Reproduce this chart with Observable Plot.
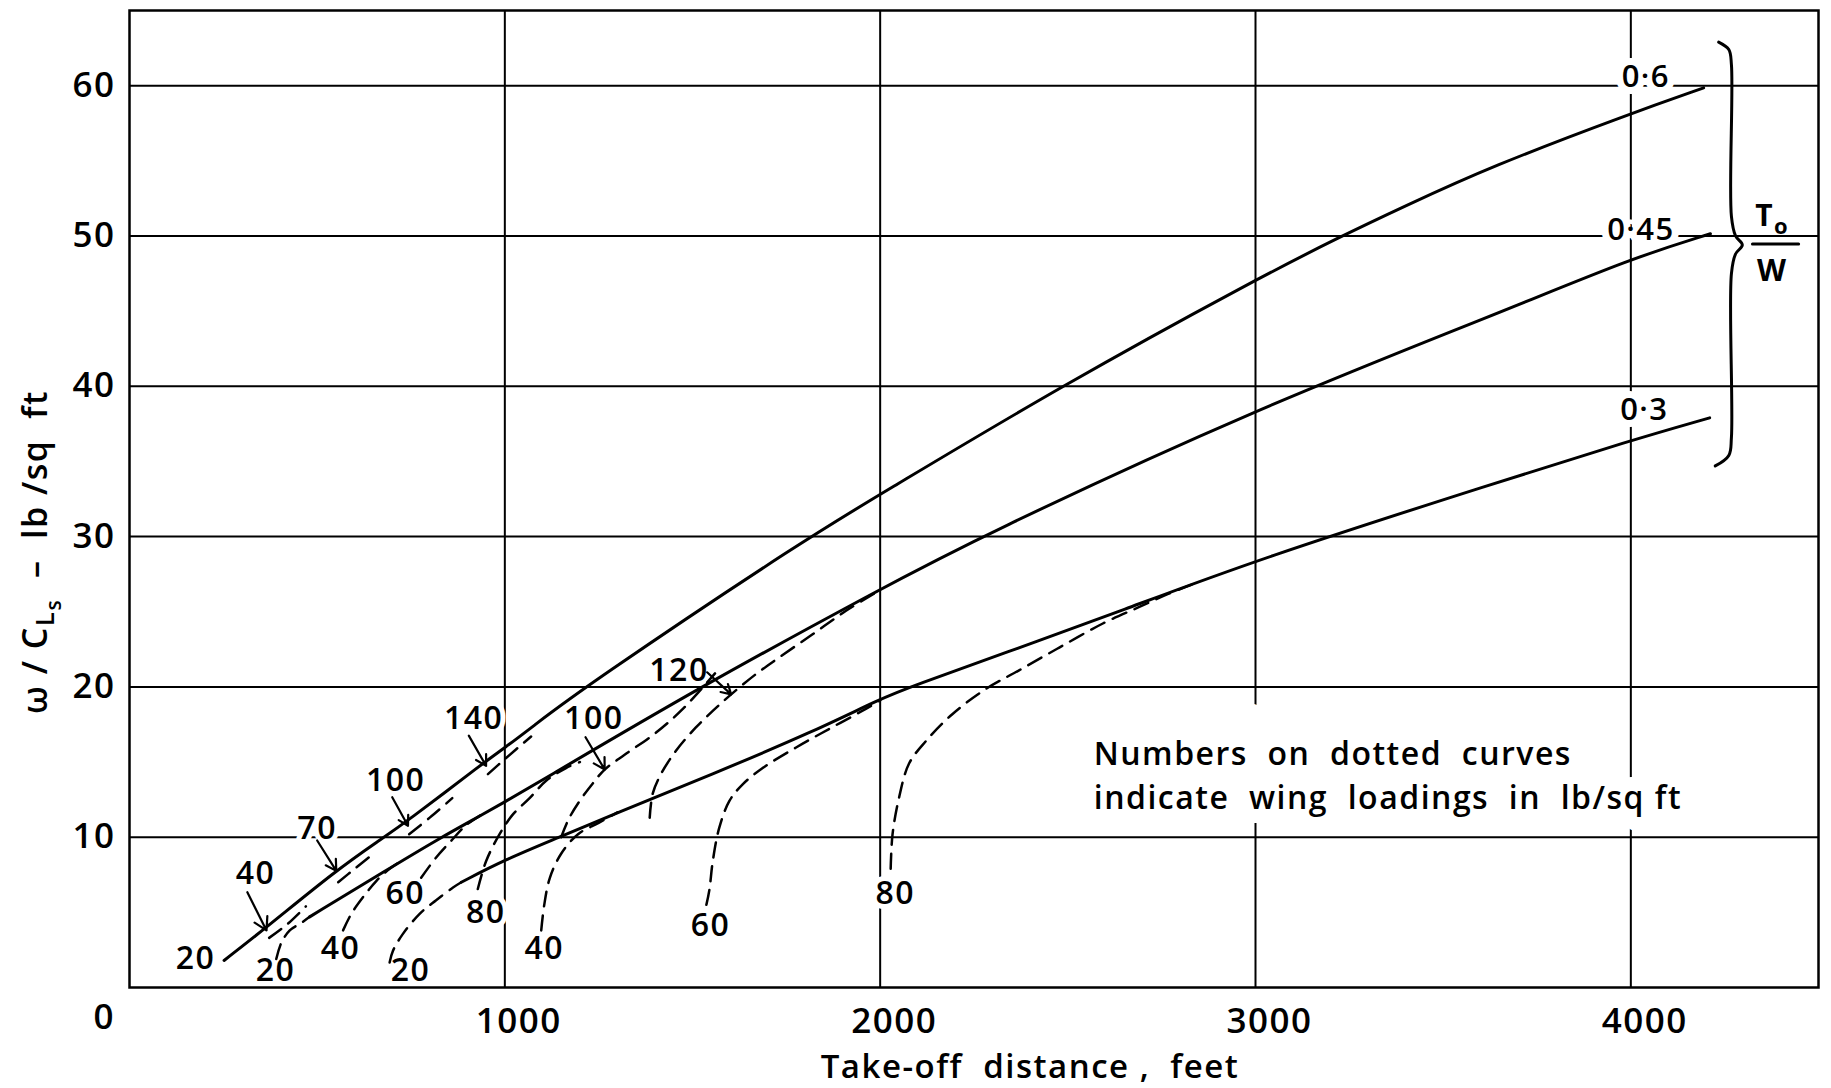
<!DOCTYPE html>
<html><head><meta charset="utf-8">
<script src="https://cdn.jsdelivr.net/npm/d3@7"></script>
<script src="https://cdn.jsdelivr.net/npm/@observablehq/plot@0.6"></script>
<style>
html,body{margin:0;padding:0;background:#fff;}
#chart{width:1831px;height:1088px;}
svg text{white-space:pre;}
</style>
</head><body><div id="chart"></div>
<script>
// ---- Data ----
const xTicks = [1000, 2000, 3000, 4000];
const yTicks = [10, 20, 30, 40, 50, 60];

// Solid curves: T0/W ratios
const dist06 = [252, 365, 551, 666, 737, 946, 1000, 1066, 1212, 1811, 2000, 2481, 3000, 3230, 3391, 3625, 4000, 4194];
const wcl06  = [1.8, 4.0, 7.8, 9.8, 11.0, 15.0, 15.95, 17.2, 20.0, 30.0, 32.8, 40.0, 47.1, 50.0, 51.9, 54.6, 58.15, 59.85];
const dist045 = [480, 684, 831, 933, 1000, 1066, 1520, 2000, 2267, 3000, 3662, 4000, 4212];
const wcl045  = [4.7, 7.8, 10.0, 11.4, 12.35, 13.3, 20.0, 26.5, 30.0, 38.5, 45.0, 48.5, 50.15];
const dist03 = [884, 1000, 1146, 1287, 1554, 1820, 2000, 2080, 2370, 2636, 3000, 3656, 4000, 4210];
const wcl03  = [7.0, 8.5, 10.0, 11.5, 14.2, 17.0, 19.2, 20.0, 22.6, 25.0, 28.45, 33.7, 36.4, 37.9];

// Dashed curves: wing loadings (lb/sq ft)
const d03w20x = [693, 702, 728, 773, 817, 862, 884];
const d03w20y = [1.66, 2.44, 3.55, 4.9, 5.8, 6.65, 7.0];
const d03w40x = [1097, 1105, 1120, 1150, 1195, 1250, 1300];
const d03w40y = [3.8, 5.5, 7.3, 8.9, 10.2, 10.95, 11.65];
const d03w60x = [1537, 1545, 1554, 1571, 1598, 1633, 1687, 1776, 1864, 1952, 2000];
const d03w60y = [5.5, 6.5, 8.4, 10.6, 12.4, 13.5, 14.6, 15.97, 17.2, 18.4, 19.1];
const d03w80x = [2028, 2033, 2050, 2077, 2122, 2193, 2281, 2370, 2476, 2592, 2689, 2769, 2830];
const d03w80y = [7.9, 10.2, 12.6, 14.9, 16.4, 18.2, 19.85, 21.1, 22.6, 24.2, 25.3, 26.2, 26.8];
const d045w20x = [391, 405, 427, 458, 480];
const d045w20y = [1.9, 3.0, 3.8, 4.3, 4.7];
const d045w40x = [569, 591, 622, 658, 693, 720];
const d045w40y = [3.8, 4.9, 6.0, 7.1, 7.9, 8.35];
const d045w60x = [777, 817, 857, 897, 935];
const d045w60y = [7.3, 8.65, 9.76, 10.8, 11.45];
const d045w80x = [928, 950, 986, 1021, 1066, 1110, 1163, 1200];
const d045w80y = [6.55, 8.4, 10.2, 11.5, 12.6, 13.75, 14.6, 15.0];
const d045w100x = [1150, 1170, 1199, 1235, 1266, 1320, 1400, 1477, 1560];
const d045w100y = [10.0, 11.2, 12.4, 13.6, 14.5, 15.5, 16.9, 18.6, 20.9];
const d045w120x = [1386, 1394, 1416, 1456, 1509, 1554, 1603, 1669, 1731, 1820, 1909, 1990];
const d045w120y = [11.3, 12.9, 14.2, 15.75, 17.3, 18.4, 19.5, 20.85, 21.96, 23.5, 25.06, 26.3];
const d06w40x = [372, 420, 470];
const d06w40y = [3.3, 4.2, 5.4];
const d06w70x = [556, 600, 650];
const d06w70y = [7.0, 7.9, 8.9];
const d06w100x = [745, 800, 860];
const d06w100y = [10.2, 11.3, 12.6];
const d06w140x = [955, 1000, 1070];
const d06w140y = [14.2, 15.2, 16.7];

// Curve labels (wing loading numbers) and T0/W labels
const loadLabels = ["20", "40", "70", "100", "140", "20", "40", "60", "80", "100", "120", "20", "40", "60", "80"];
const loadLabelX = [176, 336, 500, 709, 917, 389, 562, 735, 949, 1237, 1464, 749, 1105, 1548, 2040];
const loadLabelY = [1.9, 7.57, 10.56, 13.77, 17.87, 1.14, 2.58, 6.24, 5.0, 17.87, 21.08, 1.14, 2.6, 4.13, 6.26];
const ratioLabels = ["0·6", "0·45", "0·3"];
const ratioLabelX = [4040, 4027, 4036];
const ratioLabelY = [60.6, 50.4, 38.4];

// Arrows from labels to curves
const arrowX1 = [314, 500, 700, 904, 1215, 1539];
const arrowY1 = [6.34, 9.78, 12.66, 16.76, 16.65, 20.97];
const arrowX2 = [365, 551, 742, 950, 1266, 1603];
const arrowY2 = [3.8, 7.76, 10.76, 14.75, 14.5, 19.5];

// Note
const noteLines = ["Numbers  on  dotted  curves", "indicate  wing  loadings  in  lb/sq ft"];
const noteX = [2569, 2569];
const noteY = [14.77, 11.89];

// Brace and T0/W fraction annotation
const braceX = [4234, 4261, 4268, 4268, 4279, 4297, 4279, 4268, 4268, 4261, 4225];
const braceY = [62.9, 62.4, 61.4, 51.3, 50.0, 49.4, 48.8, 47.5, 36.6, 35.4, 34.7];
const fracBarX = [4324, 4447];
const fracBarY = [49.47, 49.47];

// ---- Build tables ----
const zip = (xs, ys, extra) => xs.map((x, i) => ({x, y: ys[i], ...extra}));
const solid = [
  ...zip(dist06, wcl06, {k: "0.6"}),
  ...zip(dist045, wcl045, {k: "0.45"}),
  ...zip(dist03, wcl03, {k: "0.3"})
];
const dashedSets = [
  ["0.3-20", d03w20x, d03w20y], ["0.3-40", d03w40x, d03w40y], ["0.3-60", d03w60x, d03w60y], ["0.3-80", d03w80x, d03w80y],
  ["0.45-20", d045w20x, d045w20y], ["0.45-40", d045w40x, d045w40y], ["0.45-60", d045w60x, d045w60y], ["0.45-80", d045w80x, d045w80y],
  ["0.45-100", d045w100x, d045w100y], ["0.45-120", d045w120x, d045w120y],
  ["0.6-40", d06w40x, d06w40y], ["0.6-70", d06w70x, d06w70y], ["0.6-100", d06w100x, d06w100y], ["0.6-140", d06w140x, d06w140y]
];
const dashed = dashedSets.flatMap(([k, xs, ys]) => zip(xs, ys, {k}));
const loadTable = loadLabels.map((t, i) => ({t, x: loadLabelX[i], y: loadLabelY[i]}));
const ratioTable = ratioLabels.map((t, i) => ({t, x: ratioLabelX[i], y: ratioLabelY[i]}));
const arrows = arrowX1.map((x1, i) => ({x1, y1: arrowY1[i], x2: arrowX2[i], y2: arrowY2[i]}));
const notes = noteLines.map((t, i) => ({t, x: noteX[i], y: noteY[i]}));
const brace = zip(braceX, braceY, {});
const fracBar = zip(fracBarX, fracBarY, {});

const FONT = "'Open Sans', 'DejaVu Sans', sans-serif";

const plot = Plot.plot({
  width: 1831,
  height: 1088,
  marginLeft: 129,
  marginRight: 13,
  marginTop: 10,
  marginBottom: 101,
  style: {fontFamily: FONT, fontWeight: 600, background: "white", color: "black", letterSpacing: "1.5px"},
  x: {domain: [0, 4500]},
  y: {domain: [0, 65]},
  marks: [
    Plot.ruleX(xTicks, {stroke: "black", strokeWidth: 2}),
    Plot.text([notes[0]], {x: "x", y: "y", text: "t", textAnchor: "start", lineAnchor: "bottom", fontSize: 32, fill: "black", stroke: "white", strokeWidth: 90, strokeLinejoin: "round", paintOrder: "stroke"}),
    Plot.text([notes[1]], {x: "x", y: "y", text: "t", textAnchor: "start", lineAnchor: "bottom", fontSize: 32, fill: "black", stroke: "white", strokeWidth: 28, strokeLinejoin: "round", paintOrder: "stroke", style: {letterSpacing: "2px"}}),
    Plot.ruleY(yTicks, {stroke: "black", strokeWidth: 2}),
    Plot.text(loadTable, {x: "x", y: "y", text: "t", fontSize: 32, fill: "black", stroke: "white", strokeWidth: 10, paintOrder: "stroke"}),
    Plot.text(ratioTable, {x: "x", y: "y", text: "t", fontSize: 31, fill: "black", stroke: "white", strokeWidth: 14, paintOrder: "stroke"}),
    Plot.frame({stroke: "black", strokeWidth: 2.5}),
    Plot.line(solid, {x: "x", y: "y", z: "k", stroke: "black", strokeWidth: 3, curve: "basis"}),
    Plot.line(dashed, {x: "x", y: "y", z: "k", stroke: "black", strokeWidth: 2.5, strokeDasharray: "15,9", curve: "catmull-rom"}),
    Plot.arrow(arrows, {x1: "x1", y1: "y1", x2: "x2", y2: "y2", stroke: "black", strokeWidth: 2.2, headLength: 12}),
    Plot.line(brace, {x: "x", y: "y", stroke: "black", strokeWidth: 3, curve: "catmull-rom"}),
    Plot.line(fracBar, {x: "x", y: "y", stroke: "black", strokeWidth: 3}),
    Plot.axisX(xTicks, {tickSize: 0, tickPadding: 21, fontSize: 35, dx: 14, tickFormat: d => String(d)}),
    Plot.axisY(yTicks, {tickSize: 0, tickPadding: 14, fontSize: 35, tickFormat: d => String(d)}),
    Plot.text(["0"], {frameAnchor: "bottom-left", text: d => d, dx: -36, dy: 30, lineAnchor: "middle", fontSize: 35})
  ]
});
document.getElementById("chart").appendChild(plot);

// Titles with sub/subscripts, placed via the plot's own scales
const svg = d3.select(plot);
const sx = plot.scale("x"), sy = plot.scale("y");
const yTitle = svg.append("text")
  .attr("transform", `translate(47, 552) rotate(-90)`)
  .attr("text-anchor", "middle")
  .attr("font-size", 34).attr("font-weight", 600).attr("fill", "black");
yTitle.append("tspan").text("ω / C");
yTitle.append("tspan").attr("font-size", 26).attr("dy", 7).text("L");
yTitle.append("tspan").attr("font-size", 21).attr("dy", 7).text("s");
yTitle.append("tspan").attr("font-size", 34).attr("dy", -14).text("  –  lb /sq  ft");

svg.append("text")
  .attr("x", 1030).attr("y", 1078)
  .attr("text-anchor", "middle")
  .attr("font-size", 33).attr("font-weight", 600).attr("fill", "black")
  .text("Take-off  distance ,  feet");

const fx = sx.apply(4378), fyT = sy.apply(50.6), fyW = sy.apply(47.0);
const tw = svg.append("text").attr("x", fx).attr("y", fyT).attr("text-anchor", "middle")
  .attr("font-size", 30).attr("font-weight", 700).attr("fill", "black");
tw.append("tspan").text("T");
tw.append("tspan").attr("font-size", 22).attr("dy", 8).text("o");
svg.append("text").attr("x", fx).attr("y", fyW).attr("text-anchor", "middle")
  .attr("font-size", 30).attr("font-weight", 700).attr("fill", "black").text("W");
</script></body></html>
